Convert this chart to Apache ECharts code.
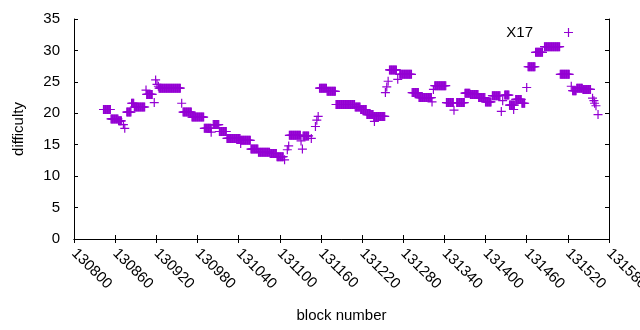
<!DOCTYPE html>
<html>
<head>
<meta charset="utf-8">
<script src="https://cdn.jsdelivr.net/npm/echarts@6/dist/echarts.min.js"></script>
<style>
html, body { margin: 0; padding: 0; background: #fff; }
#chart { width: 640px; height: 330px; }
</style>
</head>
<body>
<div id="chart"></div>
<script>
// runs of blocks that share one difficulty (start, end, value)
var runStart = [130843, 130854, 130865, 130872, 130874, 130877, 130884, 130888, 130905, 130906,
	130917, 130919, 130921, 130923, 130924, 130957, 130959, 130972, 130990, 131000,
	131003, 131012, 131023, 131043, 131043, 131058, 131069, 131086, 131096, 131107,
	131111, 131113, 131114, 131131, 131133, 131134, 131146, 131152, 131154, 131156,
	131158, 131169, 131182, 131210, 131218, 131227, 131237, 131238, 131254, 131256,
	131258, 131260, 131272, 131275, 131293, 131303, 131322, 131324, 131326, 131343,
	131354, 131358, 131370, 131378, 131390, 131400, 131410, 131423, 131425, 131428,
	131435, 131441, 131444, 131453, 131460, 131462, 131473, 131486, 131509, 131525,
	131527, 131533, 131542, 131556, 131558, 131559, 131561, 131564];
var runEnd = [130853, 130864, 130869, 130872, 130874, 130883, 130887, 130903, 130905, 130914,
	130917, 130919, 130921, 130923, 130955, 130957, 130971, 130989, 131000, 131000,
	131011, 131022, 131042, 131057, 131043, 131068, 131085, 131095, 131105, 131107,
	131111, 131113, 131130, 131131, 131133, 131142, 131146, 131152, 131154, 131156,
	131168, 131181, 131209, 131217, 131226, 131236, 131253, 131238, 131254, 131256,
	131258, 131270, 131272, 131292, 131302, 131321, 131322, 131324, 131342, 131353,
	131354, 131369, 131377, 131389, 131399, 131408, 131421, 131423, 131425, 131434,
	131442, 131441, 131452, 131457, 131460, 131472, 131483, 131508, 131522, 131525,
	131532, 131541, 131553, 131556, 131558, 131559, 131561, 131564];
var runDiff = [20.6, 19.1, 18.8, 18.2, 17.6, 20.2, 21.6, 21.0, 23.7, 23.0,
	21.7, 25.3, 24.6, 24.3, 24.0, 21.6, 20.2, 19.4, 17.6, 17.0,
	18.2, 17.1, 16.0, 15.7, 15.2, 14.3, 13.8, 13.6, 13.1, 12.6,
	14.2, 14.8, 16.5, 15.6, 14.3, 16.4, 16.0, 17.9, 18.9, 19.5,
	24.0, 23.5, 21.4, 21.0, 20.6, 19.8, 19.5, 18.7, 23.3, 24.2,
	25.1, 26.9, 25.4, 26.2, 23.3, 22.5, 21.8, 23.8, 24.4, 21.7,
	20.5, 21.7, 23.2, 23.0, 22.5, 21.8, 22.8, 20.3, 22.0, 22.9,
	21.3, 20.6, 22.2, 21.6, 24.1, 27.4, 29.7, 30.6, 26.2, 24.3,
	23.6, 24.0, 23.8, 22.4, 22.0, 21.6, 21.2, 19.8];

var yTicks = [0, 5, 10, 15, 20, 25, 30, 35];
var seriesName = 'X17';

var plusPath = 'path://M3.9,0H5.1V3.9H9V5.1H5.1V9H3.9V5.1H0V3.9H3.9Z';
var purple = '#9400d3';
var font = 'Liberation Sans';

var points = [];
for (var i = 0; i < runStart.length; i++) {
	for (var b = runStart[i]; b <= runEnd[i]; b++) {
		points.push([b, runDiff[i]]);
	}
}

var chart = echarts.init(document.getElementById('chart'), null, {renderer: 'canvas'});

var axisLine = {show: true, lineStyle: {color: '#000', width: 1}};
var tick = {show: true, inside: true, length: 4, lineStyle: {color: '#000'}};

chart.setOption({
	animation: false,
	backgroundColor: '#fff',
	textStyle: {fontFamily: font},
	grid: {left: 74, right: 31, top: 19, bottom: 91, containLabel: false, outerBoundsMode: 'none'},
	legend: {
		right: 62,
		top: 20,
		align: 'right',
		itemWidth: 9,
		itemHeight: 9,
		itemGap: 0,
		textStyle: {fontFamily: font, fontSize: 15, color: '#000', padding: [0, 26, 0, 0]},
		data: [{name: seriesName, icon: plusPath}]
	},
	xAxis: [{
		type: 'value',
		min: 130800,
		max: 131580,
		interval: 60,
		name: 'block number',
		nameLocation: 'middle',
		nameGap: 69,
		nameTextStyle: {fontFamily: font, fontSize: 15, color: '#000'},
		axisLine: axisLine,
		axisTick: tick,
		axisLabel: {
			rotate: -45, margin: 12, fontFamily: font, fontSize: 15, color: '#000',
			formatter: function (v) { return String(v); }
		},
		splitLine: {show: false}
	}, {
		type: 'value',
		position: 'top',
		min: 130800,
		max: 131580,
		interval: 60,
		axisLine: axisLine,
		axisTick: tick,
		axisLabel: {show: false},
		splitLine: {show: false}
	}],
	yAxis: [{
		type: 'value',
		min: yTicks[0],
		max: yTicks[yTicks.length - 1],
		interval: 5,
		name: 'difficulty',
		nameLocation: 'middle',
		nameGap: 48,
		nameRotate: 90,
		nameTextStyle: {fontFamily: font, fontSize: 15, color: '#000'},
		axisLine: axisLine,
		axisTick: tick,
		axisLabel: {margin: 14, fontFamily: font, fontSize: 15, color: '#000'},
		splitLine: {show: false}
	}, {
		type: 'value',
		position: 'right',
		min: yTicks[0],
		max: yTicks[yTicks.length - 1],
		interval: 5,
		axisLine: axisLine,
		axisTick: tick,
		axisLabel: {show: false},
		splitLine: {show: false}
	}],
	series: [{
		name: seriesName,
		type: 'scatter',
		symbol: plusPath,
		symbolSize: 9,
		itemStyle: {color: purple, opacity: 1},
		data: points
	}]
});
</script>
</body>
</html>
